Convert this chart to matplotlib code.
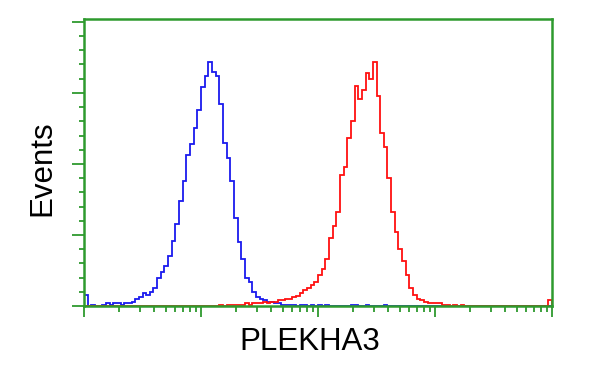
import numpy as np
import matplotlib
matplotlib.use("Agg")
import matplotlib.pyplot as plt
from matplotlib.ticker import LogLocator, MultipleLocator, NullFormatter

plt.rcParams["font.family"] = ["Liberation Sans", "DejaVu Sans"]

# channels: 1/32 decade each, 4 decades (1 .. 10^4)
n_channels = 128
channels_per_decade = 32

# blue histogram (control), counts starting at channel 0
blue_start = 0
blue_counts = [8, 0, 1, 0, 0, 1, 2, 1, 2, 2, 1, 2, 2, 3, 5, 6, 9, 8, 10, 13,
               20, 24, 28, 35, 46, 58, 74, 88, 106, 114, 125, 138, 154, 162, 172, 165,
               162, 142, 115, 104, 88, 62, 45, 33, 20, 17, 10, 6, 5, 4,
               3, 3, 2, 2, 1, 1, 1, 1, 0, 1, 1, 0, 1, 0, 1, 0, 1, 0, 0, 0,
               0, 0, 0, 1, 1, 0, 0, 1, 0, 0, 0, 0, 1]

# red histogram (PLEKHA3 transfected), counts starting at channel 37
red_start = 37
red_counts = [1, 0, 1, 1, 1, 1, 1, 2, 1, 2, 2, 2, 3, 2, 3, 3, 4, 4, 5, 5,
              6, 7, 9, 11, 13, 15, 17, 22, 26, 33, 48, 56, 66, 92, 98, 118,
              130, 155, 146, 152, 164, 160, 172, 148, 122, 112, 90, 66, 52, 40,
              32, 22, 13, 8, 5, 4, 3, 2, 2, 2, 2, 1, 1, 0, 1, 0, 1]
red_last_channel = 4

edges = 10 ** (np.arange(n_channels + 1) / channels_per_decade)

blue = np.zeros(n_channels)
blue[blue_start:blue_start + len(blue_counts)] = blue_counts
red = np.zeros(n_channels)
red[red_start:red_start + len(red_counts)] = red_counts
red[-1] = red_last_channel

fig = plt.figure(figsize=(6, 3.75), dpi=100)
ax = fig.add_axes([84 / 600, 1 - 306 / 375, (552 - 84) / 600, (306 - 19) / 375])

ax.stairs(blue, edges, color="#1a1aee", lw=1.3)
ax.stairs(red, edges, color="#ff1010", lw=1.3)

ax.set_xscale("log")
ax.set_xlim(1, 1e4)
ax.set_ylim(0, 202)

green = "#2e9a2e"
for s in ax.spines.values():
    s.set_color(green)
    s.set_linewidth(1.8)

ax.xaxis.set_major_locator(LogLocator(base=10))
ax.xaxis.set_minor_locator(LogLocator(base=10, subs=np.arange(2, 10)))
ax.xaxis.set_minor_formatter(NullFormatter())
ax.yaxis.set_major_locator(MultipleLocator(50))
ax.yaxis.set_minor_locator(MultipleLocator(10))
ax.tick_params(which="both", labelbottom=False, labelleft=False, color=green, width=1.3)
ax.tick_params(axis="x", which="major", length=8)
ax.tick_params(axis="x", which="minor", length=4)
ax.tick_params(axis="y", which="major", length=9)
ax.tick_params(axis="y", which="minor", length=3.5)

fig.text(42 / 600, 1 - 168 / 375, "Events", rotation=90, ha="center", va="center", fontsize=22.5)
fig.text(310 / 600, 1 - 342 / 375, "PLEKHA3", ha="center", va="center", fontsize=22.5)

fig.savefig("out.png", dpi=100)
